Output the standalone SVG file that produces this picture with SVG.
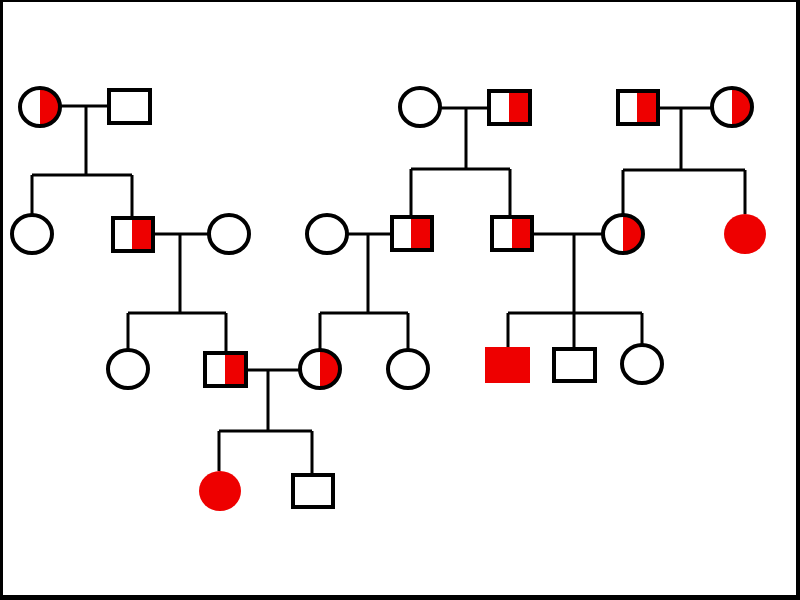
<svg xmlns="http://www.w3.org/2000/svg" width="800" height="600" viewBox="0 0 800 600">
<style>
.sh{fill:none;stroke:#000;stroke-width:4}
.bg{fill:#fff}
.red{fill:#ee0000}
.ln{fill:none;stroke:#000;stroke-width:3}
</style>
<rect x="0" y="0" width="800" height="600" fill="#000"/>
<rect x="3" y="2" width="793" height="593" fill="#fff"/>
<g id="connectors">
<path class="ln" d="M60,106 H109 M86,106 V175 M32,175 H132 M32,175 V215 M132,175 V218"/>
<path class="ln" d="M439,108 H489 M466,108 V169 M411,169 H510 M411,169 V217 M510,169 V217"/>
<path class="ln" d="M658,108 H713 M681,108 V170 M623,170 H745 M623,170 V215 M745,170 V214"/>
<path class="ln" d="M153,234 H210 M180,234 V313 M128,313 H226 M128,313 V350 M226,313 V353"/>
<path class="ln" d="M346,234 H392 M368,234 V313 M320,313 H408 M320,313 V350 M408,313 V350"/>
<path class="ln" d="M532,234 H604 M574,234 V313 M508,313 H642 M508,313 V347 M574,313 V349 M642,313 V345"/>
<path class="ln" d="M246,370 H301 M268,370 V431 M219,431 H312 M219,431 V471 M312,431 V475"/>
</g>
<g id="I1"><ellipse class="bg" cx="40" cy="107" rx="20" ry="19"/><path class="red" d="M40,88 A20,19 0 0 1 40,126 Z"/><ellipse class="sh" cx="40" cy="107" rx="20" ry="19"/></g>
<g id="I2"><rect class="bg" x="109" y="90" width="41" height="33"/><rect class="sh" x="109" y="90" width="41" height="33"/></g>
<g id="I3"><ellipse class="bg" cx="420" cy="107" rx="20" ry="19"/><ellipse class="sh" cx="420" cy="107" rx="20" ry="19"/></g>
<g id="I4"><rect class="bg" x="489" y="91" width="41" height="33"/><rect class="red" x="509" y="91" width="21" height="33"/><rect class="sh" x="489" y="91" width="41" height="33"/></g>
<g id="I5"><rect class="bg" x="618" y="91" width="40" height="33"/><rect class="red" x="637" y="91" width="21" height="33"/><rect class="sh" x="618" y="91" width="40" height="33"/></g>
<g id="I6"><ellipse class="bg" cx="732" cy="107" rx="20" ry="19"/><path class="red" d="M732,88 A20,19 0 0 1 732,126 Z"/><ellipse class="sh" cx="732" cy="107" rx="20" ry="19"/></g>
<g id="II1"><ellipse class="bg" cx="32" cy="234" rx="20" ry="19"/><ellipse class="sh" cx="32" cy="234" rx="20" ry="19"/></g>
<g id="II2"><rect class="bg" x="113" y="218" width="40" height="33"/><rect class="red" x="132" y="218" width="21" height="33"/><rect class="sh" x="113" y="218" width="40" height="33"/></g>
<g id="II3"><ellipse class="bg" cx="229" cy="234" rx="20" ry="19"/><ellipse class="sh" cx="229" cy="234" rx="20" ry="19"/></g>
<g id="II4"><ellipse class="bg" cx="327" cy="234" rx="20" ry="19"/><ellipse class="sh" cx="327" cy="234" rx="20" ry="19"/></g>
<g id="II5"><rect class="bg" x="392" y="217" width="40" height="33"/><rect class="red" x="411" y="217" width="21" height="33"/><rect class="sh" x="392" y="217" width="40" height="33"/></g>
<g id="II6"><rect class="bg" x="492" y="217" width="40" height="33"/><rect class="red" x="512" y="217" width="20" height="33"/><rect class="sh" x="492" y="217" width="40" height="33"/></g>
<g id="II7"><ellipse class="bg" cx="623" cy="234" rx="20" ry="19"/><path class="red" d="M623,215 A20,19 0 0 1 623,253 Z"/><ellipse class="sh" cx="623" cy="234" rx="20" ry="19"/></g>
<g id="II8"><ellipse class="red" cx="745" cy="234" rx="21" ry="20"/></g>
<g id="III1"><ellipse class="bg" cx="128" cy="369" rx="20" ry="19"/><ellipse class="sh" cx="128" cy="369" rx="20" ry="19"/></g>
<g id="III2"><rect class="bg" x="205" y="353" width="41" height="33"/><rect class="red" x="225" y="353" width="21" height="33"/><rect class="sh" x="205" y="353" width="41" height="33"/></g>
<g id="III3"><ellipse class="bg" cx="320" cy="369" rx="20" ry="19"/><path class="red" d="M320,350 A20,19 0 0 1 320,388 Z"/><ellipse class="sh" cx="320" cy="369" rx="20" ry="19"/></g>
<g id="III4"><ellipse class="bg" cx="408" cy="369" rx="20" ry="19"/><ellipse class="sh" cx="408" cy="369" rx="20" ry="19"/></g>
<g id="III5"><rect class="red" x="485" y="347" width="45" height="36"/></g>
<g id="III6"><rect class="bg" x="554" y="349" width="41" height="32"/><rect class="sh" x="554" y="349" width="41" height="32"/></g>
<g id="III7"><ellipse class="bg" cx="642" cy="364" rx="20" ry="19"/><ellipse class="sh" cx="642" cy="364" rx="20" ry="19"/></g>
<g id="IV1"><ellipse class="red" cx="220" cy="491" rx="21" ry="20"/></g>
<g id="IV2"><rect class="bg" x="293" y="475" width="40" height="32"/><rect class="sh" x="293" y="475" width="40" height="32"/></g>
</svg>
